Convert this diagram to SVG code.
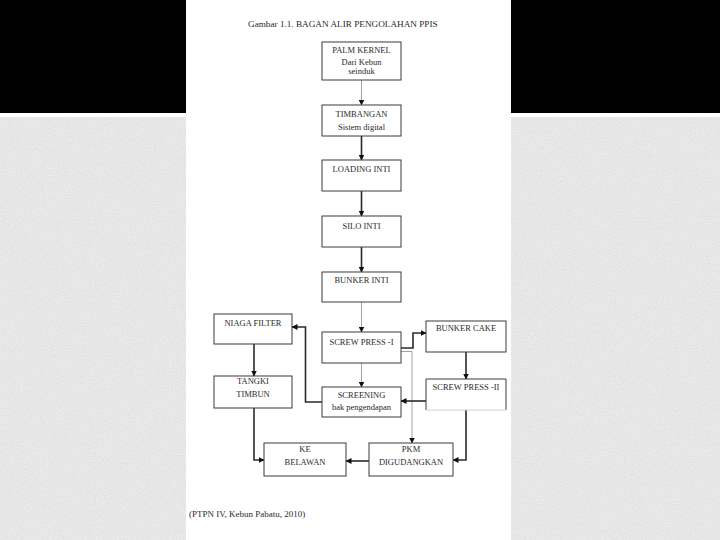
<svg xmlns="http://www.w3.org/2000/svg" width="720" height="540" viewBox="0 0 720 540">
<defs>
<filter id="noise" x="0" y="0" width="100%" height="100%">
<feTurbulence type="fractalNoise" baseFrequency="0.85" numOctaves="2" seed="7"/>
<feColorMatrix type="matrix" values="0 0 0 0 0.62  0 0 0 0 0.62  0 0 0 0 0.62  0.9 0 0 0 -0.3"/>
</filter>
<marker id="ah" markerUnits="userSpaceOnUse" markerWidth="6" markerHeight="6" refX="5.5" refY="3" orient="auto">
<path d="M0,0 L6,3 L0,6 z" fill="#111"/>
</marker>
</defs>
<style>
.box{fill:#fff;stroke:#3a3a3a;stroke-width:1}
.t{font-family:"Liberation Serif","Times New Roman",serif;font-size:8.5px;fill:#2a2a2a;text-anchor:middle}
.thick{fill:none;stroke:#2a2a2a;stroke-width:1.6}
.thin{fill:none;stroke:#8a8a8a;stroke-width:0.8}
.cap{font-family:"Liberation Serif","Times New Roman",serif;fill:#2a2a2a}
</style>
<rect x="0" y="0" width="720" height="540" fill="#ffffff"/>
<rect x="0" y="117" width="720" height="423" fill="#ebebeb"/>
<rect x="0" y="117" width="720" height="423" filter="url(#noise)"/>
<rect x="0" y="0" width="720" height="113" fill="#000"/>
<rect x="186" y="0" width="325" height="540" fill="#fff"/>

<text class="cap" x="248" y="27" font-size="9.2">Gambar 1.1. BAGAN ALIR PENGOLAHAN PPIS</text>

<g id="connectors">
<path class="thin" d="M361.5 80 V105" marker-end="url(#ah)"/>
<path class="thick" d="M361.5 136 V160" marker-end="url(#ah)"/>
<path class="thick" d="M361.5 191 V216" marker-end="url(#ah)"/>
<path class="thick" d="M361.5 247 V272" marker-end="url(#ah)"/>
<path class="thin" d="M361.5 302 V332" marker-end="url(#ah)"/>
<path class="thin" d="M361.5 363 V387" marker-end="url(#ah)"/>
<path class="thick" d="M401 348 H413 V333 H426" marker-end="url(#ah)"/>
<path class="thin" d="M401 351.5 H412 V443" marker-end="url(#ah)"/>
<path class="thick" d="M466 352 V379" marker-end="url(#ah)"/>
<path class="thick" d="M426 401 H401" marker-end="url(#ah)"/>
<path class="thick" d="M322 402 H305.5 V327 H292" marker-end="url(#ah)"/>
<path class="thick" d="M254 344 V376" marker-end="url(#ah)"/>
<path class="thick" d="M254 408 V460 H264" marker-end="url(#ah)"/>
<path class="thick" d="M466 410 V460 H453" marker-end="url(#ah)"/>
<path class="thick" d="M369 461 H346" marker-end="url(#ah)"/>
</g>

<g id="palm-kernel">
<rect class="box" x="322" y="42" width="79" height="38"/>
<text class="t" x="361.5" y="53">PALM KERNEL</text>
<text class="t" x="361.5" y="65">Dari Kebun</text>
<text class="t" x="361.5" y="74">seinduk</text>
</g>
<g id="timbangan">
<rect class="box" x="322" y="105" width="79" height="31"/>
<text class="t" x="361.5" y="117">TIMBANGAN</text>
<text class="t" x="361.5" y="130">Sistem digital</text>
</g>
<g id="loading-inti">
<rect class="box" x="322" y="160" width="79" height="31"/>
<text class="t" x="361.5" y="172">LOADING INTI</text>
</g>
<g id="silo-inti">
<rect class="box" x="322" y="216" width="79" height="31"/>
<text class="t" x="361.5" y="229">SILO INTI</text>
</g>
<g id="bunker-inti">
<rect class="box" x="322" y="272" width="79" height="30"/>
<text class="t" x="361.5" y="283">BUNKER INTI</text>
</g>
<g id="screw-press-1">
<rect class="box" x="322" y="332" width="79" height="31"/>
<text class="t" x="361.5" y="345">SCREW PRESS -I</text>
</g>
<g id="screening">
<rect class="box" x="322" y="387" width="79" height="30"/>
<text class="t" x="361.5" y="398">SCREENING</text>
<text class="t" x="361.5" y="410">bak pengendapan</text>
</g>
<g id="niaga-filter">
<rect class="box" x="214" y="314" width="78" height="30"/>
<text class="t" x="253" y="326">NIAGA FILTER</text>
</g>
<g id="tangki-timbun">
<rect class="box" x="214" y="376" width="78" height="32"/>
<text class="t" x="253" y="384">TANGKI</text>
<text class="t" x="253" y="397">TIMBUN</text>
</g>
<g id="bunker-cake">
<rect class="box" x="426" y="321" width="80" height="31"/>
<text class="t" x="466" y="331">BUNKER CAKE</text>
</g>
<g id="screw-press-2">
<path d="M426 410 V379 H506 V410" fill="#fff" stroke="#3a3a3a" stroke-width="1"/>
<path d="M426 410 H506" fill="none" stroke="#d0d0d0" stroke-width="1"/>
<text class="t" x="466" y="390">SCREW PRESS -II</text>
</g>
<g id="ke-belawan">
<rect class="box" x="264" y="443" width="82" height="33"/>
<text class="t" x="305" y="452">KE</text>
<text class="t" x="305" y="465">BELAWAN</text>
</g>
<g id="pkm-digudangkan">
<rect class="box" x="369" y="443" width="84" height="33"/>
<text class="t" x="411" y="452">PKM</text>
<text class="t" x="411" y="465">DIGUDANGKAN</text>
</g>

<text class="cap" x="189" y="517" font-size="9">(PTPN IV, Kebun Pabatu, 2010)</text>
</svg>
